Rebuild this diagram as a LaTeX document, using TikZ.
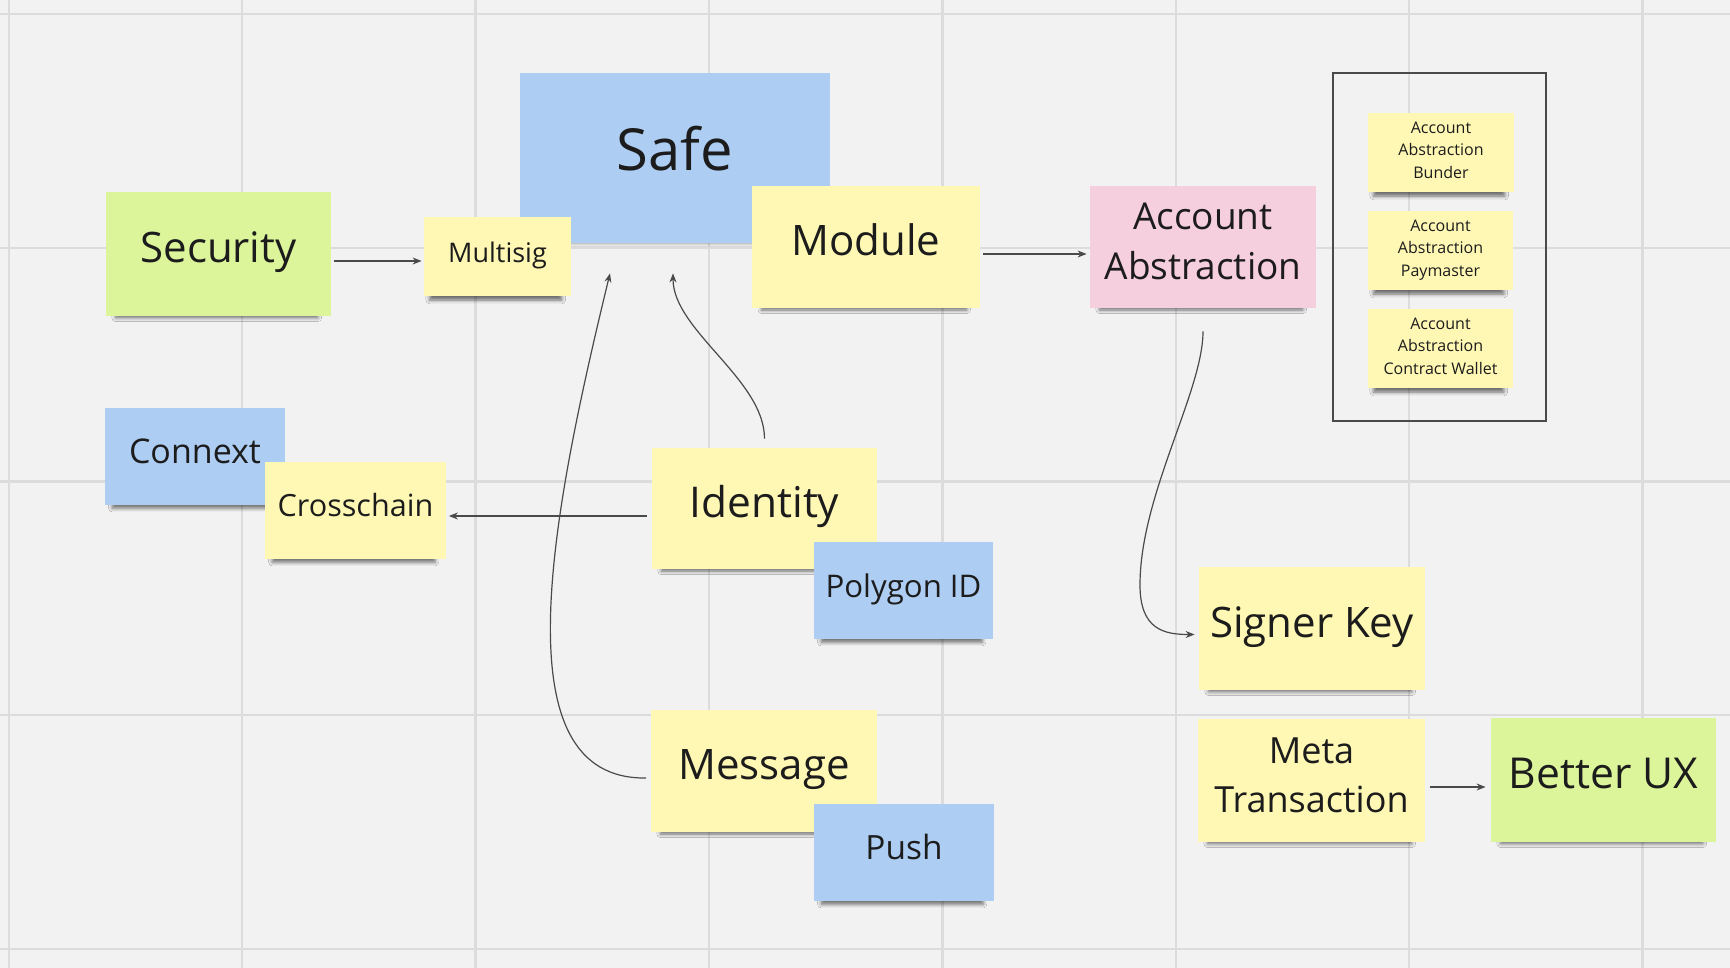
\documentclass[tikz,border=0pt]{standalone}
\usepackage{fontspec}
\setmainfont{Open Sans}
\usetikzlibrary{arrows.meta, positioning, shadows.blur}
\definecolor{board}{HTML}{F2F2F2}
\definecolor{gridgray}{HTML}{DCDCDC}
\definecolor{stickyyellow}{HTML}{FFF8B4}
\definecolor{stickygreen}{HTML}{DCF59B}
\definecolor{stickyblue}{HTML}{AECDF2}
\definecolor{stickypink}{HTML}{F6CFDE}
\definecolor{inkgray}{HTML}{4A4A4A}
\definecolor{textblack}{HTML}{1C1C1C}
\tikzstyle{sticky} = [rectangle, inner sep=0pt, text=textblack, align=center, blur shadow={shadow xshift=-1pt, shadow yshift=-4.5pt, shadow scale=0.9, shadow opacity=55, shadow blur radius=2pt}]
\tikzstyle{arrow} = [line width=0.6pt, draw=inkgray, -{Stealth[length=4.5pt, width=3.5pt]}]
\tikzstyle{gridline} = [draw=gridgray, line width=1.2pt]
\tikzset{
  fsize/.style={font=\fontsize{#1}{#1}\selectfont, text height={0.62*#1pt}, text depth={0.2*#1pt}},
  fsizelines/.style n args={3}{font=\fontsize{#1}{#2}\selectfont, text height={0.62*#1pt+(#3-1)*#2pt}, text depth={0.2*#1pt}}
}

\begin{document}
\begin{tikzpicture}[x=0.5pt, y=-0.5pt]
    \fill[board] (0,0) rectangle (1730,968);
    \useasboundingbox (0,0) rectangle (1730,968);
    \foreach \i in {0,...,7} \draw[gridline] ({8.8+233.4*\i},0) -- ({8.8+233.4*\i},968);
    \foreach \j in {0,...,4} \draw[gridline] (0,{14.3+233.6*\j}) -- (1730,{14.3+233.6*\j});

    \node (security) [sticky, fill=stickygreen, minimum width=112.5pt, minimum height=62pt, fsize=21] at (218.5,254) {Security};
    \node (safe) [sticky, fill=stickyblue, minimum width=155pt, minimum height=85pt, fsize=29] at (675,158) {Safe};
    \node (multisig) [sticky, fill=stickyyellow, minimum width=73.5pt, minimum height=39.5pt, fsize=13.5] at (497.5,256.5) {Multisig};
    \node (module) [sticky, fill=stickyyellow, minimum width=114pt, minimum height=61pt, fsize=21] at (866,247) {Module};
    \node (aa) [sticky, fill=stickypink, minimum width=113pt, minimum height=61pt, fsizelines={18.5}{24.8}{2}] at (1203,247) {Account\\Abstraction};

    \node (aaframe) [draw=inkgray, line width=0.75pt, minimum width=106.5pt, minimum height=174pt] at (1439.5,247) {};
    \node (bunder) [sticky, fill=stickyyellow, minimum width=73pt, minimum height=39.5pt, fsizelines={8}{11.3}{3}] at (1441,152.5) {Account\\Abstraction\\Bunder};
    \node (paymaster) [sticky, fill=stickyyellow, minimum width=72.5pt, minimum height=39.5pt, fsizelines={8}{11.3}{3}] at (1440.5,250.5) {Account\\Abstraction\\Paymaster};
    \node (wallet) [sticky, fill=stickyyellow, minimum width=72.5pt, minimum height=39.5pt, fsizelines={8}{11.3}{3}] at (1440.5,348.5) {Account\\Abstraction\\Contract Wallet};

    \node (connext) [sticky, fill=stickyblue, minimum width=90pt, minimum height=48.5pt, fsize=17] at (195,456.5) {Connext};
    \node (crosschain) [sticky, fill=stickyyellow, minimum width=90.5pt, minimum height=48.5pt, fsize=15.3] at (355.5,510.5) {Crosschain};
    \node (identity) [sticky, fill=stickyyellow, minimum width=112.5pt, minimum height=60.5pt, fsize=21.2] at (764.5,508.5) {Identity};
    \node (polygon) [sticky, fill=stickyblue, minimum width=89.5pt, minimum height=48.5pt, fsize=15.6] at (903.5,590.5) {Polygon ID};
    \node (message) [sticky, fill=stickyyellow, minimum width=113pt, minimum height=61pt, fsize=21] at (764,771) {Message};
    \node (push) [sticky, fill=stickyblue, minimum width=90pt, minimum height=48.5pt, fsize=16.7] at (904,852.5) {Push};

    \node (signer) [sticky, fill=stickyyellow, minimum width=113pt, minimum height=61.5pt, fsize=21] at (1312,628.5) {Signer Key};
    \node (meta) [sticky, fill=stickyyellow, minimum width=113.5pt, minimum height=61.5pt, fsizelines={18}{24.8}{2}] at (1311.5,780.5) {Meta\\Transaction};
    \node (betterux) [sticky, fill=stickygreen, minimum width=112.5pt, minimum height=62pt, fsize=21.3] at (1603.5,780) {Better UX};

    \coordinate (aabend) at (1140,585);

    \draw [arrow] ([xshift=1.5pt,yshift=-3.5pt]security.east) -- ([xshift=-1pt,yshift=-2.25pt]multisig.west);
    \draw [arrow] ([xshift=1.5pt,yshift=-3.5pt]module.east) -- ([xshift=-1.5pt,yshift=-3.5pt]aa.west);
    \draw [arrow] ([xshift=-2.5pt,yshift=-3.75pt]identity.west) -- ([xshift=1.25pt,yshift=-2.75pt]crosschain.east);
    \draw [arrow] ([xshift=2.25pt,yshift=-3.25pt]meta.east) -- ([xshift=-2.5pt,yshift=-3.5pt]betterux.west);
    \draw [arrow] ([yshift=4.5pt]identity.north) .. controls +(0,-59) and +(0,57) .. ([xshift=-1pt,yshift=-15pt]safe.south);
    \draw [arrow] ([xshift=-2.25pt,yshift=-3.5pt]message.west) .. controls +(-146.5,2) and +(-60,247) .. ([xshift=-32.5pt,yshift=-15pt]safe.south);
    \draw [arrow] ([yshift=-11.5pt]aa.south) .. controls +(0,60) and +(0,-90) .. (aabend) .. controls +(0,45) and +(-30,0) .. ([xshift=-2pt,yshift=-3pt]signer.west);
\end{tikzpicture}
\end{document}
